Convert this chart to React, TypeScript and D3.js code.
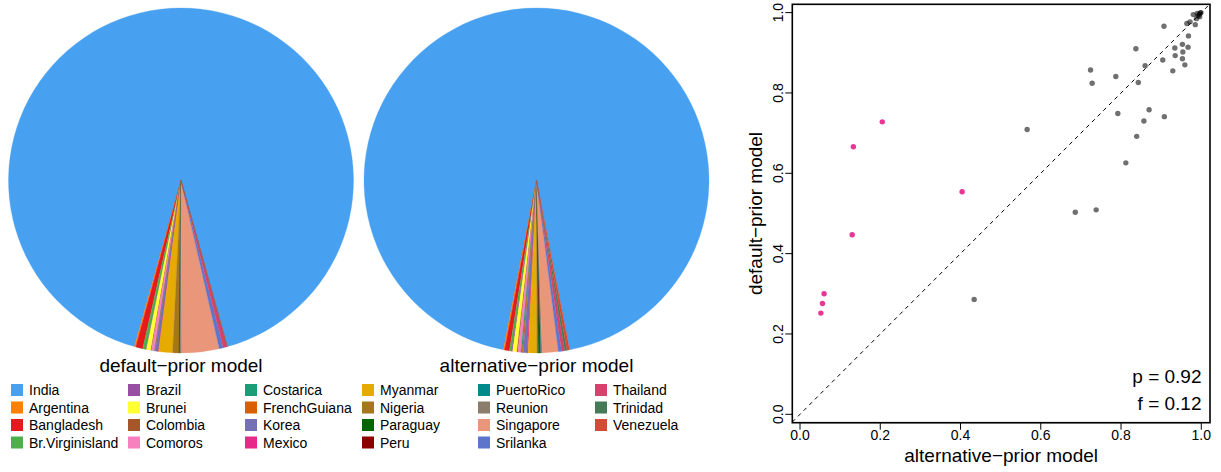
import React from "react";
import * as d3 from "d3";

// Country shares (percent) under each prior
const countries = [
  "India", "Argentina", "Bangladesh", "Br.Virginisland", "Brazil", "Brunei",
  "Colombia", "Comoros", "Costarica", "FrenchGuiana", "Korea", "Mexico",
  "Myanmar", "Nigeria", "Paraguay", "Peru", "PuertoRico", "Reunion",
  "Singapore", "Srilanka", "Thailand", "Trinidad", "Venezuela",
];
const countryColors = [
  "#47a0f0", "#ff7f00", "#e41a1c", "#4daf4a", "#984ea3", "#ffff33",
  "#a65628", "#f781bf", "#1b9e77", "#d95f02", "#7570b3", "#e7298a",
  "#e6ab02", "#a6761d", "#006400", "#8b0000", "#008b8b", "#8b7d6b",
  "#e9967a", "#5d76cb", "#d6426d", "#467a56", "#d44a33",
];
const defaultShares = [
  91.41, 0.12, 0.66, 0.3, 0.05, 0.42, 0.05, 0.3, 0.03, 0.03, 0.28, 0.03,
  1.3, 0.6, 0.03, 0.03, 0.03, 0.15, 3.5, 0.38, 0.36, 0.02, 0.02,
];
const alternativeShares = [
  93.8, 0.12, 0.45, 0.2, 0.1, 0.4, 0.08, 0.3, 0.1, 0.1, 0.35, 0.1,
  0.8, 0.15, 0.1, 0.1, 0.05, 0.1, 1.5, 0.3, 0.3, 0.2, 0.25,
];

// Per-sample posterior probabilities: alternative-prior (x) vs default-prior (y)
const grayAlt = [
  0.907, 0.837, 0.724, 0.728, 0.787, 0.86, 0.843, 0.792, 0.87, 0.857, 0.908,
  0.839, 0.812, 0.566, 0.686, 0.738, 0.904, 0.929, 0.934, 0.935, 0.953, 0.954,
  0.953, 0.959, 0.967, 0.968, 0.964, 0.972, 0.98, 0.985, 0.434,
  0.988, 0.992, 0.995, 0.998, 0.999, 0.99, 0.996,
];
const grayDefault = [
  0.966, 0.91, 0.857, 0.824, 0.841, 0.868, 0.826, 0.749, 0.758, 0.73, 0.741,
  0.692, 0.626, 0.709, 0.503, 0.509, 0.882, 0.855, 0.912, 0.893, 0.921, 0.902,
  0.885, 0.87, 0.914, 0.942, 0.973, 0.977, 0.995, 0.97, 0.286,
  0.985, 0.992, 0.996, 0.999, 1.0, 0.998, 0.99,
];
const pinkAlt = [0.205, 0.133, 0.404, 0.13, 0.06, 0.056, 0.052];
const pinkDefault = [0.728, 0.666, 0.554, 0.447, 0.3, 0.276, 0.252];

const xTicks = [0, 0.2, 0.4, 0.6, 0.8, 1.0];
const yTicks = [0, 0.2, 0.4, 0.6, 0.8, 1.0];
const statLines = ["p = 0.92", "f = 0.12"];

const FONT = "'Liberation Sans', Arial, Helvetica, sans-serif";

function Pie({ cx, cy, r, values, title }: { cx: number; cy: number; r: number; values: number[]; title: string }) {
  const total = d3.sum(values);
  const rest = (total - values[0]) / total;
  // counter-clockwise slices; the small ones sit centred at the bottom
  const start = Math.PI - Math.PI * rest;
  const arcs = d3
    .pie<number>()
    .sort(null)
    .value((d) => d)
    .startAngle(start)
    .endAngle(start - 2 * Math.PI)(values);
  const arc = d3.arc<d3.PieArcDatum<number>>().innerRadius(0).outerRadius(r);
  return (
    <g>
      <g transform={`translate(${cx},${cy})`}>
        {arcs.map((a, i) => (
          <path key={i} d={arc(a) || ""} fill={countryColors[i]} stroke={countryColors[i]} strokeWidth={0.3} />
        ))}
      </g>
      <text x={cx} y={372} textAnchor="middle" fontSize={19} fill="#000">
        {title}
      </text>
    </g>
  );
}

export default function App() {
  const left = 792.3, right = 1210, top = 4.3, bottom = 422.7;
  const x = d3.scaleLinear().domain([-0.0192, 1.0217]).range([left, right]);
  const y = d3.scaleLinear().domain([-0.0209, 1.0207]).range([bottom, top]);

  const legendCols = [11, 128, 245, 362, 478, 595];
  const legendRows = [384, 401.5, 419, 436.5];

  const lineLo = x.domain()[0];
  const lineHi = x.domain()[1];

  return (
    <svg
      width={1221}
      height={472}
      style={{ position: "absolute", left: 0, top: 0, background: "#fff" }}
      fontFamily={FONT}
    >
      <rect width={1221} height={472} fill="#fff" />
      <Pie cx={181} cy={180.5} r={172.5} values={defaultShares} title="default−prior model" />
      <Pie cx={536.5} cy={180.5} r={172.5} values={alternativeShares} title="alternative−prior model" />

      {/* legend, filled column-wise */}
      {countries.map((name, i) => {
        const col = Math.floor(i / 4);
        const row = i % 4;
        const lx = legendCols[col];
        const ly = legendRows[row];
        return (
          <g key={name}>
            <rect x={lx} y={ly} width={12} height={12} fill={countryColors[i]} />
            <text x={lx + 18} y={ly + 11} fontSize={14} fill="#000">
              {name}
            </text>
          </g>
        );
      })}

      {/* scatter panel */}
      <defs>
        <clipPath id="plotClip">
          <rect x={left} y={top} width={right - left} height={bottom - top} />
        </clipPath>
      </defs>
      <line
        x1={x(lineLo)}
        y1={y(lineLo)}
        x2={x(lineHi)}
        y2={y(lineHi)}
        stroke="#000"
        strokeWidth={1}
        strokeDasharray="4 4"
        clipPath="url(#plotClip)"
      />
      {grayAlt.map((v, i) => (
        <circle key={"g" + i} cx={x(v)} cy={y(grayDefault[i])} r={2.7} fill="#000" fillOpacity={0.56} />
      ))}
      {pinkAlt.map((v, i) => (
        <circle key={"p" + i} cx={x(v)} cy={y(pinkDefault[i])} r={2.7} fill="#ea3594" />
      ))}
      <rect x={left} y={top} width={right - left} height={bottom - top} fill="none" stroke="#000" strokeWidth={1.6} />

      {/* x axis */}
      <line x1={x(0)} x2={x(1)} y1={bottom} y2={bottom} stroke="#000" strokeWidth={1} />
      {xTicks.map((t) => (
        <g key={"xt" + t}>
          <line x1={x(t)} x2={x(t)} y1={bottom} y2={bottom + 7} stroke="#000" strokeWidth={1} />
          <text x={x(t)} y={440} textAnchor="middle" fontSize={14} fill="#000">
            {t.toFixed(1)}
          </text>
        </g>
      ))}
      <text x={(left + right) / 2} y={462} textAnchor="middle" fontSize={19} fill="#000">
        alternative−prior model
      </text>

      {/* y axis */}
      {yTicks.map((t) => (
        <g key={"yt" + t}>
          <line x1={left - 7} x2={left} y1={y(t)} y2={y(t)} stroke="#000" strokeWidth={1} />
          <text
            transform={`translate(783,${y(t)}) rotate(-90)`}
            textAnchor="middle"
            fontSize={14}
            fill="#000"
          >
            {t.toFixed(1)}
          </text>
        </g>
      ))}
      <text
        transform={`translate(762,${(top + bottom) / 2}) rotate(-90)`}
        textAnchor="middle"
        fontSize={19}
        fill="#000"
      >
        default−prior model
      </text>

      {statLines.map((s, i) => (
        <text key={s} x={1201.5} y={383 + i * 27} textAnchor="end" fontSize={19} fill="#000">
          {s}
        </text>
      ))}
    </svg>
  );
}
